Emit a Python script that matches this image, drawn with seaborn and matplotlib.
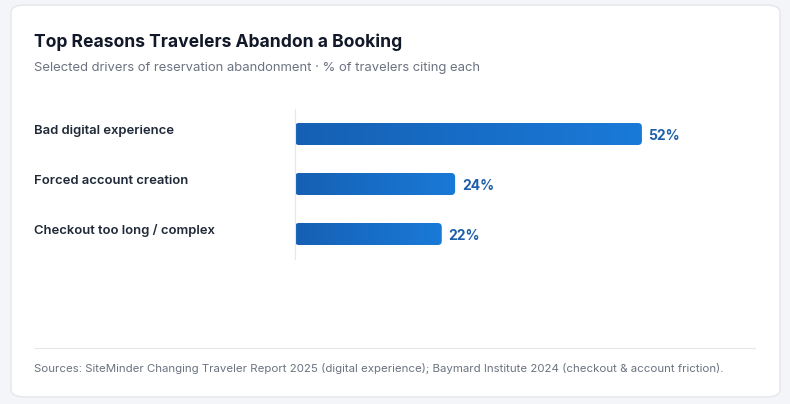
import numpy as np
import pandas as pd
import matplotlib
matplotlib.use("Agg")
import matplotlib.pyplot as plt
import seaborn as sns
from matplotlib.patches import FancyBboxPatch

# data
reasons = ["Bad digital experience", "Forced account creation", "Checkout too long / complex"]
pct = [52, 24, 22]

title = "Top Reasons Travelers Abandon a Booking"
subtitle = "Selected drivers of reservation abandonment \u00b7 % of travelers citing each"
footer = ("Sources: SiteMinder Changing Traveler Report 2025 (digital experience); "
          "Baymard Institute 2024 (checkout & account friction).")

df = pd.DataFrame({"reason": reasons, "pct": pct})

sns.set_style("white")
plt.rcParams["font.family"] = ["Inter", "DejaVu Sans"]

W, H = 790, 404
fig = plt.figure(figsize=(W / 100, H / 100), dpi=100)
fig.patch.set_facecolor("#f4f5f8")

# card background
card = FancyBboxPatch((11 / W, 1 - 397 / H), 769 / W, 392 / H,
                      boxstyle="round,pad=0,rounding_size=0.018",
                      transform=fig.transFigure, facecolor="white",
                      edgecolor="#e4e6eb", linewidth=1.0, zorder=-5)
fig.patches.append(card)

# axes: left edge at 295px, 70 units across 467px
ax = fig.add_axes([295 / W, 1 - 259 / H, 467 / W, 150 / H])
ax.set_zorder(2)
ax.set_facecolor("none")
sns.barplot(data=df, x="pct", y="reason", orient="h", width=0.44,
            color="#1565c0", ax=ax)
ax.set_xlim(0, 70)
ax.set_ylim(2.5, -0.5)

# gradient bars with rounded corners
grad = np.linspace(0, 1, 512).reshape(1, -1)
cmap = matplotlib.colors.LinearSegmentedColormap.from_list("g", ["#1560b4", "#1a7ad8"])
# 1 x-unit = 6.67px, 1 y-unit = 50px
ux, uy = 467 / 70, 50.0
for p in list(ax.patches):
    x0, y0, w, h = p.get_x(), p.get_y(), p.get_width(), p.get_height()
    p.set_visible(False)
    rb = FancyBboxPatch((x0, y0), w, h,
                        boxstyle="round,pad=0,rounding_size=%f" % (4 / ux),
                        mutation_aspect=ux / uy,
                        facecolor="none", edgecolor="none")
    ax.add_patch(rb)
    im = ax.imshow(grad, extent=[x0, x0 + w, y0 + h, y0], cmap=cmap,
                   aspect="auto", zorder=2, interpolation="bilinear")
    im.set_clip_path(rb)
    ax.text(x0 + w + 1.0, y0 + h / 2 + 0.03, f"{int(round(w))}%",
            va="center", ha="left", fontsize=10, fontweight="bold",
            color="#1f5ea8")
ax.set_xlim(0, 70)
ax.set_ylim(2.5, -0.5)

ax.set_xticks([])
ax.set_yticks([])
ax.set_xlabel("")
ax.set_ylabel("")
for s in ["top", "right", "bottom"]:
    ax.spines[s].set_visible(False)
ax.spines["left"].set_color("#e5e7eb")
ax.spines["left"].set_linewidth(0.8)

# category labels
for i, r in enumerate(reasons):
    yb = 1 - (131 + 50 * i) / H
    fig.text(34 / W, yb, r, ha="left", va="center", fontsize=9.4,
             fontweight="semibold", color="#1f2937")

fig.text(34 / W, 1 - 42 / H, title, ha="left", va="center", fontsize=12.6,
         fontweight="bold", color="#111827")
fig.text(34 / W, 1 - 68 / H, subtitle, ha="left", va="center", fontsize=9.4,
         color="#6b7280")

fig.add_artist(plt.Line2D([34 / W, 755 / W], [1 - 348 / H, 1 - 348 / H],
                          transform=fig.transFigure, color="#e5e7eb", lw=0.8))
fig.text(34 / W, 1 - 369 / H, footer, ha="left", va="center", fontsize=8.25,
         color="#6b7280")

fig.savefig("out.png", dpi=100, facecolor=fig.get_facecolor())
